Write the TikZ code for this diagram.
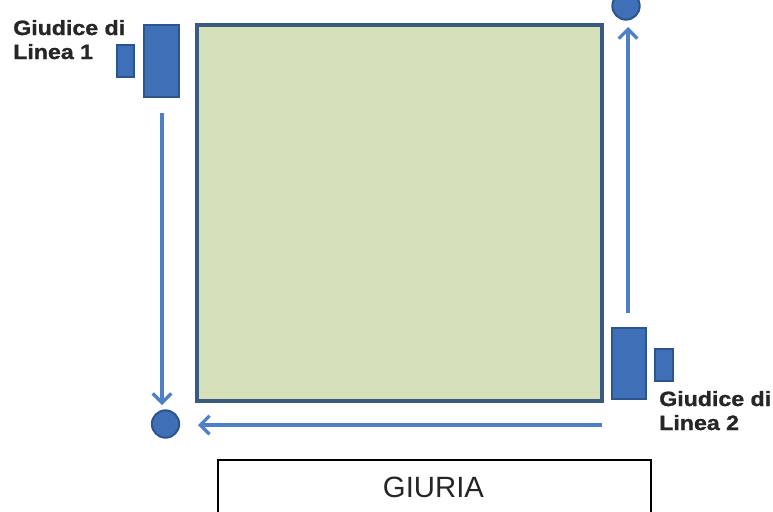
\documentclass[tikz,border=0pt]{standalone}
\usepackage{fontspec}
\setmainfont{Liberation Sans}
\newfontfamily\labfont[FakeStretch=1.12,FakeBold=1.2]{Liberation Sans}
\usetikzlibrary{arrows.meta}
\definecolor{fieldgreen}{HTML}{D7E1B9}
\definecolor{fieldedge}{HTML}{3A5A80}
\definecolor{judgeblue}{HTML}{3F6FB6}
\definecolor{judgeedge}{HTML}{2C558F}
\definecolor{arrowblue}{HTML}{4F80C6}
\definecolor{labgray}{HTML}{262626}
\tikzset{
  judgebox/.style={draw=judgeedge, fill=judgeblue, line width=1.5pt, inner sep=0pt},
  flagdot/.style={circle, draw=judgeedge, fill=judgeblue, line width=1.5pt, minimum size=20.5pt, inner sep=0pt},
  runline/.style={draw=arrowblue, line width=2.6pt, -{Straight Barb[length=7pt,width=14pt,line width=2.4pt]}},
  judgelabel/.style={anchor=base west, align=left, font=\labfont\bfseries\fontsize{15.5}{18}\selectfont, text=labgray, inner sep=0pt}
}
\begin{document}
\begin{tikzpicture}[x=0.75pt,y=-0.75pt]
\useasboundingbox (0,0) rectangle (773,511);
% field
\node[draw=fieldedge, fill=fieldgreen, line width=2.6pt, minimum width=405*0.75pt, minimum height=376*0.75pt, inner sep=0pt] (field) at (399.5,213) {};
% judge 1
\node[judgebox, minimum width=35*0.75pt, minimum height=72*0.75pt] (j1big) at (161.5,61) {};
\node[judgebox, minimum width=17*0.75pt, minimum height=32*0.75pt] (j1small) at (125.5,61) {};
\node[judgelabel] (lab1) at (13,59) {Giudice di\\Linea 1};
% judge 2
\node[judgebox, minimum width=34*0.75pt, minimum height=71*0.75pt] (j2big) at (629,363.5) {};
\node[judgebox, minimum width=18*0.75pt, minimum height=32*0.75pt] (j2small) at (663.5,365) {};
\node[judgelabel] (lab2) at (659,430) {Giudice di\\Linea 2};
% flag dots
\node[flagdot] (dotbl) at (165.5,424) {};
\node[flagdot] (dottr) at (626,6) {};
% runs
\coordinate (a1s) at (162,113);
\coordinate (a1e) at (162,405);
\coordinate (a2s) at (602,425);
\coordinate (a2e) at (198,425);
\coordinate (a3s) at (628,313);
\coordinate (a3e) at (628,27);
\draw[runline] (a1s) -- (a1e);
\draw[runline] (a2s) -- (a2e);
\draw[runline] (a3s) -- (a3e);
% jury
\node[draw=black, line width=1.6pt, minimum width=433*0.75pt, minimum height=60*0.75pt, inner sep=0pt, anchor=north west] (jurybox) at (217,459) {};
\node[font=\fontsize{22}{24}\selectfont, text=black!85] (jury) at (433.5,487) {GIURIA};
\end{tikzpicture}
\end{document}
